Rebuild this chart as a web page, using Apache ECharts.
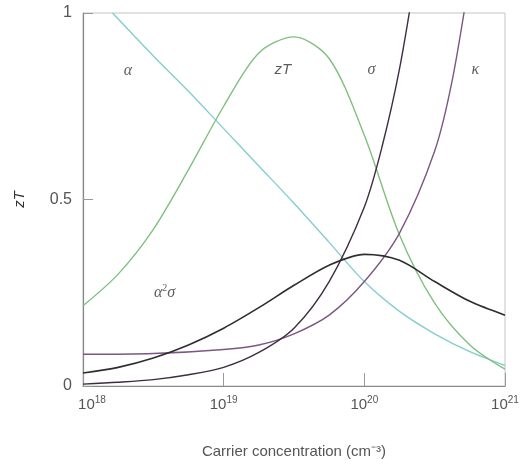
<!DOCTYPE html>
<html><head><meta charset="utf-8">
<script src="https://cdn.jsdelivr.net/npm/echarts@6/dist/echarts.min.js"></script>
<style>html,body{margin:0;padding:0;background:#fff}#c{width:523px;height:464px}</style>
</head><body><div id="c"></div>
<script>
// x values are log10 of carrier concentration (cm^-3)
const xTicks = [18, 19, 20, 21];
const yTicks = [0, 0.5, 1];

const alphaX = [18.21, 18.5, 18.75, 19.0, 19.25, 19.5, 19.75, 20.0, 20.25, 20.5, 20.75, 21.0];
const alphaY = [1.0, 0.885, 0.79, 0.69, 0.59, 0.49, 0.385, 0.28, 0.2, 0.14, 0.092, 0.055];

const zTX = [18.0, 18.25, 18.5, 18.75, 19.0, 19.25, 19.5, 19.75, 20.0, 20.25, 20.5, 20.75, 21.0];
const zTY = [0.215, 0.30, 0.42, 0.58, 0.75, 0.893, 0.936, 0.878, 0.672, 0.405, 0.222, 0.11, 0.045];

const a2sX = [18.0, 18.25, 18.5, 18.75, 19.0, 19.25, 19.5, 19.75, 20.0, 20.25, 20.5, 20.75, 21.0];
const a2sY = [0.035, 0.05, 0.075, 0.11, 0.155, 0.21, 0.27, 0.324, 0.353, 0.337, 0.28, 0.227, 0.19];

const sigmaX = [18.0, 18.25, 18.5, 18.75, 19.0, 19.25, 19.5, 19.75, 20.0, 20.125, 20.25, 20.375];
const sigmaY = [0.005, 0.01, 0.017, 0.03, 0.05, 0.09, 0.155, 0.28, 0.48, 0.64, 0.85, 1.13];

const kappaX = [18.0, 18.5, 19.0, 19.25, 19.5, 19.75, 20.0, 20.25, 20.5, 20.625, 20.75];
const kappaY = [0.085, 0.087, 0.098, 0.11, 0.14, 0.19, 0.28, 0.41, 0.63, 0.82, 1.10];

const labelText = ['{g|α}', '{i|zT}', '{g|σ}', '{g|κ}', '{g|α}{s|2}{g|σ}'];
const labelX = [18.32, 19.42, 20.05, 20.79, 18.58];
const labelY = [0.846, 0.848, 0.848, 0.848, 0.25];

const zip = (xs, ys) => xs.map((x, i) => [x, ys[i]]);

function lineSeries(name, xs, ys, color, w) {
  return {
    name, type: 'line', data: zip(xs, ys), smooth: 0.3, showSymbol: false, symbol: 'none',
    clip: true, lineStyle: { color, width: w }, z: 3
  };
}

const chart = echarts.init(document.getElementById('c'), null, { renderer: 'canvas' });
chart.setOption({
  animation: false,
  backgroundColor: '#fff',
  grid: { left: 83, right: 18, top: 13, bottom: 75, show: true, borderColor: '#c4c4c4', borderWidth: 1, backgroundColor: 'transparent' },
  xAxis: {
    type: 'value', min: xTicks[0], max: xTicks[xTicks.length - 1], interval: 1,
    name: 'Carrier concentration (cm⁻³)', nameLocation: 'middle', nameGap: 58,
    nameTextStyle: { color: '#555', fontSize: 15, fontFamily: 'Liberation Sans' },
    axisLine: { show: true, lineStyle: { color: '#888', width: 1.2 } },
    axisTick: { show: true, inside: true, length: 13, lineStyle: { color: '#999' } },
    splitLine: { show: false },
    axisLabel: {
      margin: 9, color: '#555',
      formatter: v => (v === 18 ? '{p|}' : '') + '{a|10}{s|' + v + '}',
      rich: {
        a: { fontSize: 15, fontFamily: 'Liberation Sans', color: '#555', lineHeight: 20 },
        s: { fontSize: 10, fontFamily: 'Liberation Sans', color: '#555', verticalAlign: 'top', lineHeight: 20 },
        p: { width: 18 }
      }
    }
  },
  yAxis: {
    type: 'value', min: 0, max: 1, interval: 0.5,
    name: 'zT', nameLocation: 'middle', nameGap: 56, nameRotate: 90,
    nameTextStyle: { color: '#333', fontSize: 15, fontStyle: 'italic', fontFamily: 'Liberation Sans' },
    axisLine: { show: true, lineStyle: { color: '#888', width: 1.2 } },
    axisTick: { show: true, inside: true, length: 10, lineStyle: { color: '#999' } },
    splitLine: { show: false },
    axisLabel: {
      margin: 11, color: '#555', fontSize: 16, fontFamily: 'Liberation Sans',
      formatter: v => String(yTicks.find(t => Math.abs(t - v) < 1e-9) ?? v)
    }
  },
  series: [
    lineSeries('α', alphaX, alphaY, '#86cdd0', 1.4),
    lineSeries('zT', zTX, zTY, '#7fc07f', 1.4),
    lineSeries('κ', kappaX, kappaY, '#7d5683', 1.4),
    lineSeries('σ', sigmaX, sigmaY, '#3e2c40', 1.4),
    lineSeries('α²σ', a2sX, a2sY, '#2e2e2e', 1.6),
    {
      type: 'scatter', symbolSize: 0, z: 5,
      data: labelX.map((x, i) => ({ value: [x, labelY[i]], name: labelText[i] })),
      label: {
        show: true, position: 'inside', formatter: p => p.name,
        rich: {
          g: { fontSize: 16, fontFamily: 'Liberation Serif', fontStyle: 'italic', color: '#333', lineHeight: 18 },
          i: { fontSize: 15, fontFamily: 'Liberation Sans', fontStyle: 'italic', color: '#333', lineHeight: 18 },
          s: { fontSize: 10, fontFamily: 'Liberation Serif', color: '#333', verticalAlign: 'top', lineHeight: 18 }
        }
      }
    }
  ]
});
</script></body></html>
